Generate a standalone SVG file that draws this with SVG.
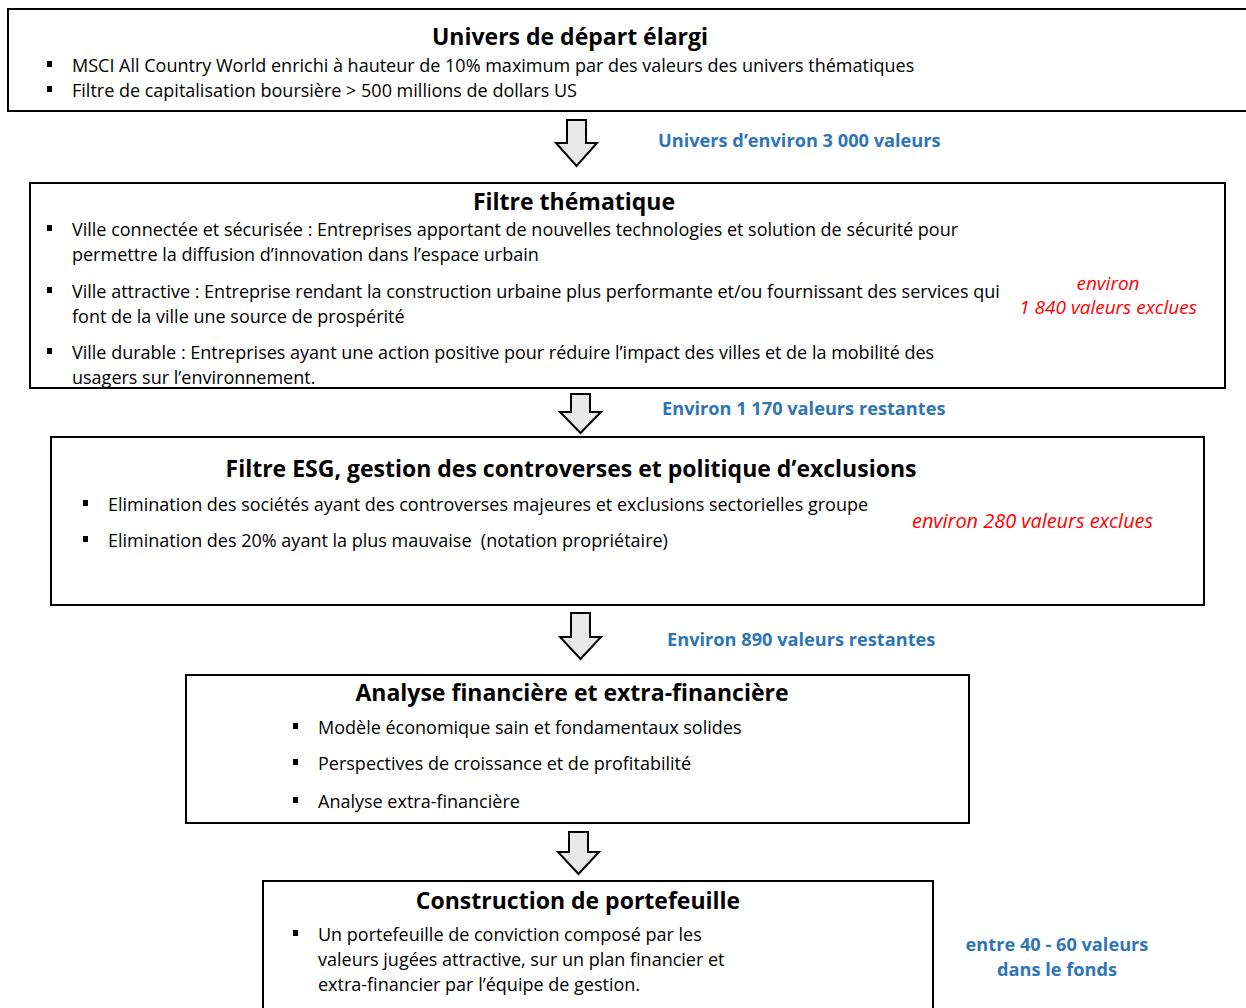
<svg xmlns="http://www.w3.org/2000/svg" width="1246" height="1008" viewBox="0 0 1246 1008">
<style>
.box{fill:#fff;stroke:#000;stroke-width:2}
.arr{fill:#e8e8e8;stroke:#000;stroke-width:2;stroke-linejoin:miter}
.t{font-family:"Open Sans","Liberation Sans",sans-serif;font-size:18px;fill:#000}
.h{font-family:"Open Sans","Liberation Sans",sans-serif;font-size:23px;font-weight:bold;fill:#000;text-anchor:middle}
.blue{font-family:"Open Sans","Liberation Sans",sans-serif;font-size:18.2px;font-weight:bold;fill:#2e75b6}
.red{font-family:"Open Sans","Liberation Sans",sans-serif;font-size:19px;font-style:italic;fill:#ff0000}
.bul{fill:#000}
</style>
<rect width="1246" height="1008" fill="#fff"/>
<g id="connectors">
<path class="arr" d="M567,120 H586 V143 H597 L576.5,166 L556,143 H567 Z"/>
<path class="arr" d="M571,394 H590 V412 H601 L580.5,433 L560,412 H571 Z"/>
<path class="arr" d="M571,613 H590 V637 H601 L580.5,659 L560,637 H571 Z"/>
<path class="arr" d="M569,832 H588 V852 H599 L578.5,874 L558,852 H569 Z"/>
<text class="blue" x="658" y="147">Univers d’environ 3 000 valeurs</text>
<text class="blue" x="662" y="415">Environ 1 170 valeurs restantes</text>
<text class="blue" x="667" y="646">Environ 890 valeurs restantes</text>
</g>
<g id="n1">
<rect class="box" x="8" y="9" width="1250" height="102"/>
<text class="h" x="570" y="45">Univers de départ élargi</text>
<rect class="bul" x="47" y="61" width="5" height="6"/>
<text class="t" x="72" y="72">MSCI All Country World enrichi à hauteur de 10% maximum par des valeurs des univers thématiques</text>
<rect class="bul" x="47" y="86" width="5" height="6"/>
<text class="t" x="72" y="97">Filtre de capitalisation boursière &gt; 500 millions de dollars US</text>
</g>
<g id="n2">
<rect class="box" x="30" y="183" width="1195" height="205"/>
<text class="h" x="574" y="210">Filtre thématique</text>
<rect class="bul" x="47" y="225" width="5" height="6"/>
<text class="t" x="72" y="236">Ville connectée et sécurisée : Entreprises apportant de nouvelles technologies et solution de sécurité pour</text>
<text class="t" x="72" y="261">permettre la diffusion d’innovation dans l’espace urbain</text>
<rect class="bul" x="47" y="287" width="5" height="6"/>
<text class="t" x="72" y="298">Ville attractive : Entreprise rendant la construction urbaine plus performante et/ou fournissant des services qui</text>
<text class="t" x="72" y="323">font de la ville une source de prospérité</text>
<rect class="bul" x="47" y="348" width="5" height="6"/>
<text class="t" x="72" y="359">Ville durable : Entreprises ayant une action positive pour réduire l’impact des villes et de la mobilité des</text>
<text class="t" x="72" y="384">usagers sur l’environnement.</text>
<text class="red" x="1108" y="290" text-anchor="middle">environ</text>
<text class="red" x="1108" y="314" text-anchor="middle">1 840 valeurs exclues</text>
</g>
<g id="n3">
<rect class="box" x="51" y="437" width="1153" height="168"/>
<text class="h" x="571" y="477">Filtre ESG, gestion des controverses et politique d’exclusions</text>
<rect class="bul" x="83" y="500" width="5" height="6"/>
<text class="t" x="108" y="511">Elimination des sociétés ayant des controverses majeures et exclusions sectorielles groupe</text>
<rect class="bul" x="83" y="536" width="5" height="6"/>
<text class="t" x="108" y="547">Elimination des 20% ayant la plus mauvaise &#160;(notation propriétaire)</text>
<text class="red" x="912" y="528" style="font-size:19.9px">environ 280 valeurs exclues</text>
</g>
<g id="n4">
<rect class="box" x="186" y="675" width="783" height="148"/>
<text class="h" x="572" y="701">Analyse financière et extra-financière</text>
<rect class="bul" x="293" y="723" width="5" height="6"/>
<text class="t" x="318" y="734">Modèle économique sain et fondamentaux solides</text>
<rect class="bul" x="293" y="759" width="5" height="6"/>
<text class="t" x="318" y="770">Perspectives de croissance et de profitabilité</text>
<rect class="bul" x="293" y="797" width="5" height="6"/>
<text class="t" x="318" y="808">Analyse extra-financière</text>
</g>
<g id="n5">
<rect class="box" x="263" y="881" width="670" height="140"/>
<text class="h" x="578" y="909">Construction de portefeuille</text>
<rect class="bul" x="293" y="930" width="5" height="6"/>
<text class="t" x="318" y="941">Un portefeuille de conviction composé par les</text>
<text class="t" x="318" y="966">valeurs jugées attractive, sur un plan financier et</text>
<text class="t" x="318" y="991">extra-financier par l’équipe de gestion.</text>
<text class="blue" x="1057" y="951" text-anchor="middle">entre 40 - 60 valeurs</text>
<text class="blue" x="1057" y="976" text-anchor="middle">dans le fonds</text>
</g>
</svg>
